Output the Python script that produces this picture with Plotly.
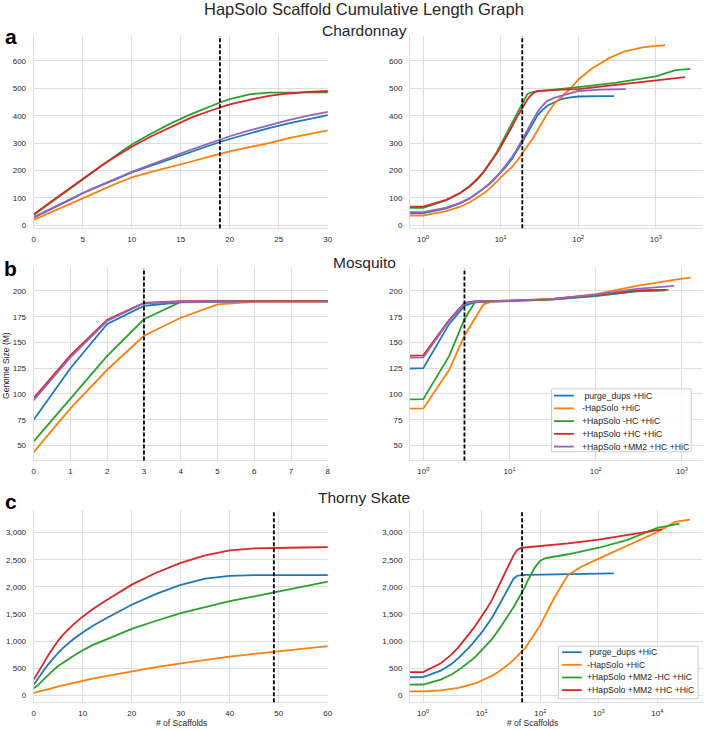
import plotly.graph_objects as go

W, H = 712, 730

# ---------------- data ----------------
NAMES_5 = [" purge_dups +HiC", "-HapSolo +HiC", "+HapSolo -HC +HiC",
           "+HapSolo +HC +HiC", "+HapSolo +MM2 +HC +HiC"]
NAMES_4 = [" purge_dups +HiC", "-HapSolo +HiC", "+HapSolo +MM2 -HC +HiC",
           "+HapSolo +MM2 +HC +HiC"]
COLORS = ["#1f77b4", "#ff7f0e", "#2ca02c", "#d62728", "#9467bd"]

# Chardonnay (cumulative length, Mb) by scaffold index
chard_purge_x = [0, 1, 2, 3, 4, 5, 6, 7, 8, 9, 10, 12, 14, 16, 18, 19, 20, 22, 24, 26, 28, 30, 35, 40, 50, 60, 80, 100, 200, 290]
chard_purge_y = [28, 45, 62, 80, 98, 117, 133, 148, 163, 178, 193, 218, 243, 268, 293, 304, 315, 335, 355, 372, 387, 402, 422, 436, 450, 460, 467, 470, 471, 471]
chard_nohap_x = [0, 1, 2, 3, 4, 5, 6, 7, 8, 9, 10, 12, 14, 16, 18, 19, 20, 22, 24, 26, 28, 30, 35, 40, 50, 60, 80, 100, 150, 250, 400, 700, 1000, 1320]
chard_nohap_y = [20, 36, 52, 68, 84, 100, 116, 131, 146, 161, 175, 195, 213, 232, 252, 262, 270, 285, 300, 318, 333, 348, 382, 408, 446, 466, 500, 531, 572, 610, 635, 650, 655, 657]
chard_nohc_x = [0, 1, 2, 3, 4, 5, 6, 7, 8, 9, 10, 12, 14, 16, 18, 19, 20, 22, 24, 26, 28, 30, 40, 60, 100, 300, 1000, 1800, 2800]
chard_nohc_y = [38, 64, 92, 118, 142, 167, 193, 220, 245, 270, 295, 335, 372, 405, 435, 448, 460, 478, 484, 486, 488, 489, 492, 497, 504, 520, 543, 566, 571]
chard_hc_x = [0, 1, 2, 3, 4, 5, 6, 7, 8, 9, 10, 12, 14, 16, 18, 19, 20, 22, 24, 26, 28, 30, 40, 60, 100, 300, 1000, 2400]
chard_hc_y = [40, 68, 93, 118, 144, 170, 195, 220, 243, 265, 287, 325, 360, 392, 418, 430, 441, 458, 472, 481, 487, 490, 493, 495, 497, 512, 530, 541]
chard_mm2_x = [0, 1, 2, 3, 4, 5, 6, 7, 8, 9, 10, 12, 14, 16, 18, 19, 20, 22, 24, 26, 28, 30, 35, 40, 50, 60, 80, 100, 200, 410]
chard_mm2_y = [30, 48, 65, 82, 100, 118, 134, 150, 165, 180, 195, 222, 249, 275, 300, 312, 325, 346, 366, 384, 400, 414, 438, 454, 466, 473, 483, 490, 495, 497]

# Mosquito
mos_purge_x = [0, 1, 2, 3, 4, 5, 6, 7, 8, 10, 30, 100, 300, 650]
mos_purge_y = [75, 125, 168, 185.5, 189, 189.5, 189.8, 190, 190, 190.2, 191.5, 195, 199.5, 200.5]
mos_nohap_x = [0, 1, 2, 3, 4, 5, 6, 7, 8, 10, 30, 100, 300, 1000, 1260]
mos_nohap_y = [43.5, 86, 123.5, 156.5, 174, 187, 189.4, 190, 190, 190.2, 192, 197, 205, 212, 213]
mos_nohc_x = [0, 1, 2, 3, 4, 5, 6, 7, 8, 10, 30, 100, 300, 700]
mos_nohc_y = [54, 95, 137, 172.5, 189.4, 190, 190, 190.2, 190.5, 190.5, 191.5, 195.5, 200, 201]
mos_hc_x = [0, 1, 2, 3, 4, 5, 6, 7, 8, 10, 30, 100, 300, 650]
mos_hc_y = [96, 137.5, 172, 188.5, 190, 190, 190, 190, 190, 190.5, 192, 196, 200.5, 201]
mos_mm2_x = [0, 1, 2, 3, 4, 5, 6, 7, 8, 10, 30, 100, 300, 810]
mos_mm2_y = [94, 135.5, 171, 188, 189.5, 189.8, 190, 190, 190, 190.5, 192, 196.5, 202, 205]

# Thorny Skate
sk_purge_x = [0, 1, 2, 3, 4, 5, 6, 7, 8, 10, 12, 15, 20, 25, 30, 35, 40, 45, 49, 60, 100, 300, 1000, 1800]
sk_purge_y = [195, 335, 455, 575, 685, 785, 875, 955, 1030, 1160, 1280, 1430, 1670, 1870, 2035, 2150, 2200, 2215, 2218, 2220, 2222, 2230, 2242, 2248]
sk_nohap_x = [0, 1, 2, 3, 4, 5, 6, 7, 8, 10, 12, 15, 20, 25, 30, 35, 40, 45, 49, 55, 60, 70, 80, 100, 150, 200, 300, 500, 1000, 3000, 10000, 20000, 36000]
sk_nohap_y = [45, 72, 92, 112, 140, 165, 185, 205, 225, 275, 310, 360, 445, 520, 590, 655, 715, 765, 808, 870, 930, 1040, 1140, 1290, 1670, 1910, 2220, 2370, 2520, 2755, 3010, 3195, 3240]
sk_nohc_x = [0, 1, 2, 3, 4, 5, 6, 7, 8, 10, 12, 15, 20, 25, 30, 35, 40, 45, 49, 55, 60, 70, 80, 100, 120, 150, 300, 1000, 3000, 10000, 24000]
sk_nohc_y = [130, 200, 290, 380, 465, 540, 605, 665, 722, 830, 925, 1035, 1225, 1375, 1515, 1625, 1735, 1825, 1900, 2000, 2095, 2240, 2350, 2480, 2525, 2545, 2600, 2720, 2860, 3085, 3165]
sk_hc_x = [0, 1, 2, 3, 4, 5, 6, 7, 8, 10, 12, 15, 20, 25, 30, 35, 40, 45, 49, 55, 60, 100, 300, 1000, 3000, 10000, 12000]
sk_hc_y = [290, 430, 590, 745, 885, 1010, 1120, 1215, 1300, 1450, 1585, 1760, 2040, 2260, 2440, 2580, 2670, 2710, 2720, 2725, 2730, 2755, 2800, 2870, 2950, 3050, 3060]

PANEL_TITLES = ["Chardonnay", "Mosquito", "Thorny Skate"]
PANEL_LETTERS = ["a", "b", "c"]
CUTOFFS = [19, 3, 49]
LIN_XMAX = [30, 8, 60]
LIN_DTICK = [5, 1, 10]
Y_RANGES = [[-11, 691], [35.5, 222], [-129, 3410]]
Y_TICKS = [list(range(0, 601, 100)), list(range(50, 201, 25)), list(range(0, 3001, 500))]
LOG_RANGES = [[-0.17, 3.61], [-0.155, 3.245], [-0.225, 4.78]]
LOG_TICKS = [[1, 10, 100, 1000], [1, 10, 100, 1000], [1, 10, 100, 1000, 10000]]

groups = [
    (NAMES_5, [(chard_purge_x, chard_purge_y), (chard_nohap_x, chard_nohap_y), (chard_nohc_x, chard_nohc_y),
               (chard_hc_x, chard_hc_y), (chard_mm2_x, chard_mm2_y)]),
    (NAMES_5, [(mos_purge_x, mos_purge_y), (mos_nohap_x, mos_nohap_y), (mos_nohc_x, mos_nohc_y),
               (mos_hc_x, mos_hc_y), (mos_mm2_x, mos_mm2_y)]),
    (NAMES_4, [(sk_purge_x, sk_purge_y), (sk_nohap_x, sk_nohap_y), (sk_nohc_x, sk_nohc_y),
               (sk_hc_x, sk_hc_y)]),
]

# ---------------- layout geometry (pixels) ----------------
LEFT_X = (32, 329)
RIGHT_X = (412, 708)
ROWS_Y = [(36, 229), (269, 461.7), (511.7, 704.3)]

FONT = "Liberation Sans, Arial, sans-serif"
TXT = "#262626"
GRID = "#dddddd"


def px(x):
    return x / W


def py(y):
    return 1 - y / H


fig = go.Figure()
layout = dict(width=W, height=H, margin=dict(l=0, r=0, t=0, b=0),
              paper_bgcolor="white", plot_bgcolor="white", showlegend=False,
              font=dict(family=FONT, size=8, color=TXT))
shapes = []
annotations = []

for r, (names, series) in enumerate(groups):
    il = 2 * r + 1
    ir = 2 * r + 2
    kl = "" if il == 1 else str(il)
    kr = str(ir)
    ydom = [py(ROWS_Y[r][1]), py(ROWS_Y[r][0])]
    axis_common = dict(showgrid=True, gridcolor=GRID, gridwidth=1, zeroline=False,
                       showline=True, linecolor=GRID, linewidth=1, ticks="",
                       tickfont=dict(family=FONT, size=8, color=TXT))
    layout["xaxis" + kl] = dict(axis_common, domain=[px(LEFT_X[0]), px(LEFT_X[1])],
                                anchor="y" + kl, range=[0, LIN_XMAX[r]], dtick=LIN_DTICK[r],
                                tick0=0, ticklabelstandoff=3)
    layout["yaxis" + kl] = dict(axis_common, domain=ydom, anchor="x" + kl,
                                range=Y_RANGES[r], tickvals=Y_TICKS[r], tickformat=",d",
                                ticklabelstandoff=5)
    layout["xaxis" + kr] = dict(axis_common, domain=[px(RIGHT_X[0]), px(RIGHT_X[1])],
                                anchor="y" + kr, type="log", range=LOG_RANGES[r],
                                tickvals=LOG_TICKS[r],
                                ticktext=["10<sup>%d</sup>" % i for i in range(len(LOG_TICKS[r]))],
                                ticklabelstandoff=3)
    layout["yaxis" + kr] = dict(axis_common, domain=ydom, anchor="x" + kr,
                                range=Y_RANGES[r], tickvals=Y_TICKS[r], tickformat=",d",
                                ticklabelstandoff=5)

    for i, (xs, ys) in enumerate(series):
        line = dict(color=COLORS[i], width=1.8)
        fig.add_trace(go.Scatter(x=xs, y=ys, mode="lines", line=line, name=names[i],
                                 xaxis="x" + kl, yaxis="y" + kl))
        # log axis: non-positive indices are clipped far to the left (as matplotlib does)
        xlog = [v if v > 0 else 1e-30 for v in xs]
        fig.add_trace(go.Scatter(x=xlog, y=ys, mode="lines", line=line, name=names[i],
                                 xaxis="x" + kr, yaxis="y" + kr))

    for k in (kl, kr):
        shapes.append(dict(type="line", xref="x" + k, yref="y" + k + " domain",
                           x0=CUTOFFS[r], x1=CUTOFFS[r], y0=0, y1=1, layer="above",
                           line=dict(color="black", width=1.8, dash="4px,2px")))

# titles and labels
annotations.append(dict(text="HapSolo Scaffold Cumulative Length Graph", x=px(366), y=py(9),
                        xref="paper", yref="paper", showarrow=False, xanchor="center", yanchor="middle",
                        font=dict(family=FONT, size=16.5, color=TXT)))
for r, (t, yy) in enumerate(zip(PANEL_TITLES, [31, 263, 499])):
    annotations.append(dict(text=t, x=px(366), y=py(yy), xref="paper", yref="paper", showarrow=False,
                            xanchor="center", yanchor="middle", font=dict(family=FONT, size=15.5, color=TXT)))
for L, yy in zip(PANEL_LETTERS, [37, 269, 503]):
    annotations.append(dict(text="<b>%s</b>" % L, x=px(9), y=py(yy), xref="paper", yref="paper",
                            showarrow=False, xanchor="center", yanchor="middle",
                            font=dict(family=FONT, size=21, color="black")))
annotations.append(dict(text="Genome Size (M)", x=px(4), y=py(366), xref="paper", yref="paper",
                        showarrow=False, textangle=-90, xanchor="center", yanchor="middle",
                        font=dict(family=FONT, size=8.5, color=TXT)))
for xx in (181, 536):
    annotations.append(dict(text="# of Scaffolds", x=px(xx), y=py(725), xref="paper", yref="paper",
                            showarrow=False, xanchor="center", yanchor="middle",
                            font=dict(family=FONT, size=8.5, color=TXT)))

# legends (drawn manually to match compact matplotlib spacing)
LEGENDS = [
    dict(names=NAMES_5, box=(555, 390, 696, 453), rows=(396.7, 12.78), line=(557.5, 577.5), text_x=584),
    dict(names=NAMES_4, box=(562, 648, 703, 700.7), rows=(654, 12.67), line=(565.7, 585.5), text_x=588.5),
]
for lg in LEGENDS:
    x0, y0, x1, y1 = lg["box"]
    shapes.append(dict(type="rect", xref="paper", yref="paper", x0=px(x0), x1=px(x1), y0=py(y1), y1=py(y0),
                       fillcolor="rgba(255,255,255,0.85)", line=dict(color="#cccccc", width=1), layer="above"))
    for i, nm in enumerate(lg["names"]):
        yy = lg["rows"][0] + i * lg["rows"][1]
        shapes.append(dict(type="line", xref="paper", yref="paper", x0=px(lg["line"][0]), x1=px(lg["line"][1]),
                           y0=py(yy), y1=py(yy), line=dict(color=COLORS[i], width=1.8), layer="above"))
        label = nm.replace(" ", "\u00a0", 1) if nm.startswith(" ") else nm
        annotations.append(dict(text=label, x=px(lg["text_x"]), y=py(yy), xref="paper", yref="paper",
                                showarrow=False, xanchor="left", yanchor="middle",
                                font=dict(family=FONT, size=8.7, color=TXT)))

layout["shapes"] = shapes
layout["annotations"] = annotations
fig.update_layout(**layout)
fig.write_html("out.html", config={"displayModeBar": False},
               post_script="document.body.style.margin='0px';")
